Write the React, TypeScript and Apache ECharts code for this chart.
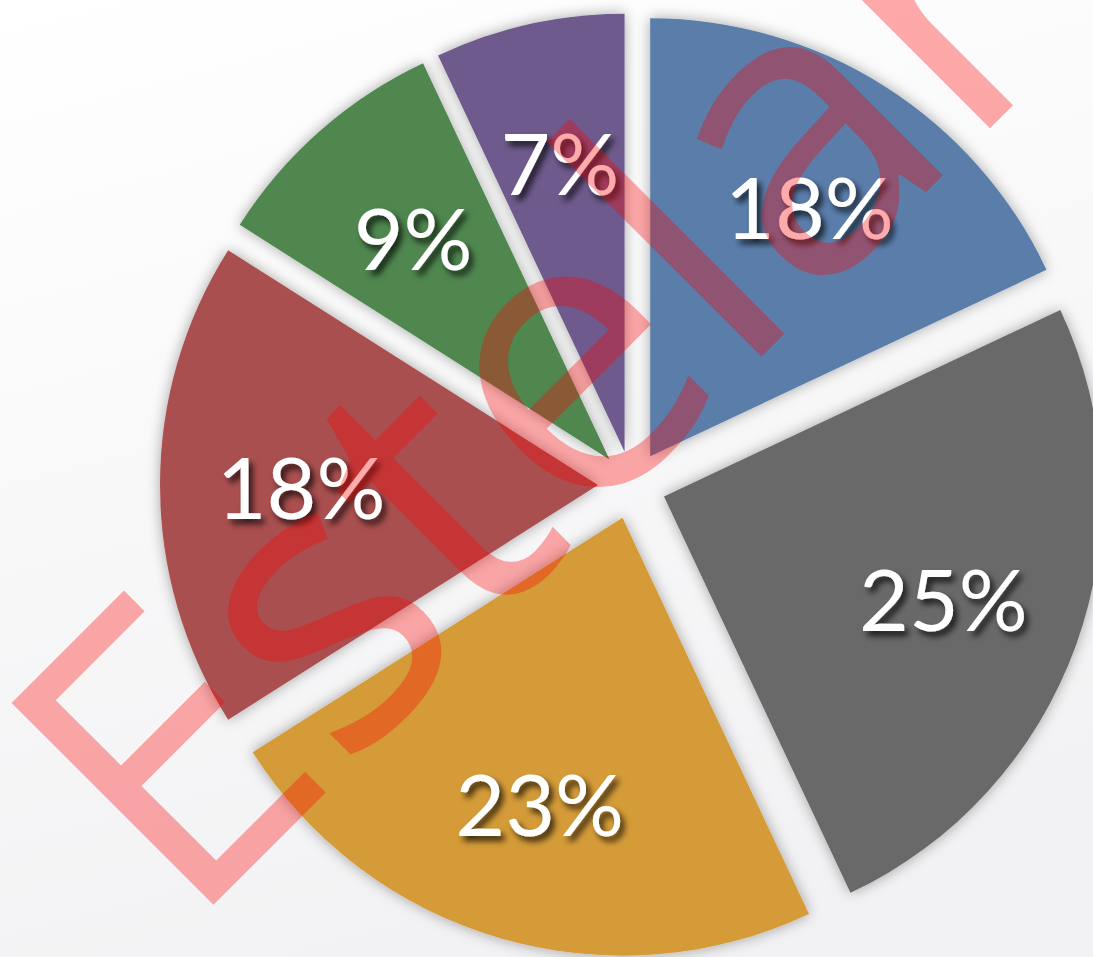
import { useEffect, useRef } from 'react';
import * as echarts from 'echarts';

const categories = ['Blue', 'Gray', 'Gold', 'Red', 'Green', 'Purple'];
const values = [18, 25, 23, 18, 9, 7];
const labels = ['18%', '25%', '23%', '18%', '9%', '7%'];
const colors = ['#5a7daa', '#696969', '#d49b37', '#aa5050', '#508750', '#6e5a8c'];
const watermark = 'Estelar';

export default function App() {
  const ref = useRef<HTMLDivElement>(null);
  useEffect(() => {
    document.body.style.margin = '0';
    const chart = echarts.init(ref.current!, null, { renderer: 'svg' });
    const center = [632, 485];
    const offset = 34;
    const R = 438;
    const sliceData = categories.map((name, i) => ({
      name,
      value: values[i],
      selected: true,
      itemStyle: { color: colors[i] },
    }));
    const labelData = categories.map((name, i) => ({
      name,
      value: values[i],
      selected: true,
    }));
    chart.setOption({
      animation: false,
      backgroundColor: {
        type: 'linear', x: 0, y: 0, x2: 0.3, y2: 1,
        colorStops: [
          { offset: 0, color: '#ffffff' },
          { offset: 1, color: '#f2f2f4' },
        ],
      },
      series: [
        {
          type: 'pie',
          center,
          radius: [0, R],
          startAngle: 90,
          clockwise: true,
          selectedMode: 'multiple',
          selectedOffset: offset,
          silent: true,
          label: { show: false },
          labelLine: { show: false },
          itemStyle: {
            shadowBlur: 14,
            shadowColor: 'rgba(0,0,0,0.35)',
          },
          select: { itemStyle: { shadowBlur: 14, shadowColor: 'rgba(0,0,0,0.35)' } },
          data: sliceData,
          z: 1,
        },
        {
          type: 'pie',
          center,
          radius: [150, R],
          startAngle: 90,
          clockwise: true,
          selectedMode: 'multiple',
          selectedOffset: offset,
          silent: true,
          avoidLabelOverlap: false,
          itemStyle: { color: 'rgba(0,0,0,0)' },
          select: { itemStyle: { color: 'rgba(0,0,0,0)' } },
          labelLine: { show: false },
          label: {
            show: true,
            position: 'inside',
            formatter: (p: any) => labels[p.dataIndex],
            color: '#ffffff',
            fontFamily: 'Lato',
            fontSize: 86,
            textShadowColor: 'rgba(0,0,0,0.75)',
            textShadowBlur: 6,
            textShadowOffsetX: 4,
            textShadowOffsetY: 5,
          },
          data: labelData,
          z: 2,
        },
      ],
      graphic: [
        {
          type: 'text',
          x: 524,
          y: 375,
          rotation: Math.PI / 4,
          z: 100,
          silent: true,
          style: {
            text: watermark,
            fontFamily: 'Open Sans',
            fontSize: 400,
            fill: 'rgba(255,0,0,0.33)',
            align: 'center',
            verticalAlign: 'middle',
          },
        },
      ],
    });
    return () => chart.dispose();
  }, []);
  return <div ref={ref} style={{ width: 1093, height: 957 }} />;
}
